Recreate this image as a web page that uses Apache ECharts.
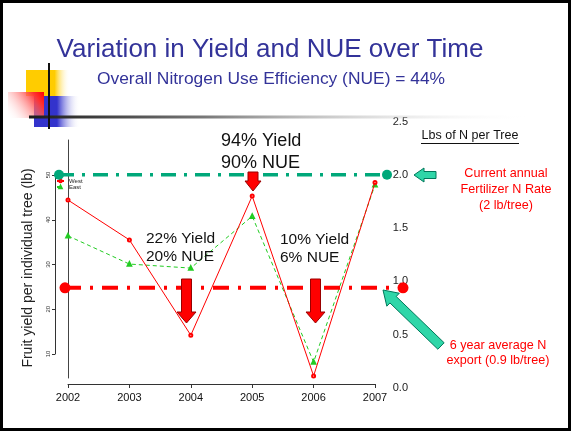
<!DOCTYPE html>
<html>
<head>
<meta charset="utf-8">
<script src="https://cdn.jsdelivr.net/npm/echarts@6/dist/echarts.min.js"></script>
<style>
html,body{margin:0;padding:0;background:#fff;}
#chart{width:571px;height:434px;}
</style>
</head>
<body>
<div id="chart"></div>
<script>
// ---- data ----
var years = ['2002', '2003', '2004', '2005', '2006', '2007'];
var westYield = [44.4, 35.5, 14.2, 45.3, 5.1, 48.3];
var eastYield = [36.4, 30.1, 29.2, 40.8, 8.2, 47.8];
var fertilizerRate = [2.0, 2.0];     // lb N per tree (current annual rate)
var nExport = [0.94, 0.94];          // 6 year average N export (as drawn)
var refEnds = ['start', 'end'];
var leftAxisMin = 10, leftAxisMax = 50, leftAxisStep = 10;
var rightAxisMin = 0, rightAxisMax = 2.5, rightAxisStep = 0.5;

var FONT = '"Liberation Sans", Arial, sans-serif';
var chart = echarts.init(document.getElementById('chart'), null, {renderer: 'canvas'});

function downArrow(cx, y0, y1, bh, hh, hl) {
  return [[cx - bh, y0], [cx + bh, y0], [cx + bh, y1 - hl], [cx + hh, y1 - hl], [cx, y1], [cx - hh, y1 - hl], [cx - bh, y1 - hl]];
}
function arrowFromTo(tx, ty, ex, ey, bh, hh, hl) {
  var dx = ex - tx, dy = ey - ty, L = Math.sqrt(dx * dx + dy * dy);
  var ux = dx / L, uy = dy / L, px = -uy, py = ux;
  var bx = tx + ux * hl, by = ty + uy * hl;
  return [[tx, ty], [bx + px * hh, by + py * hh], [bx + px * bh, by + py * bh], [ex + px * bh, ey + py * bh],
          [ex - px * bh, ey - py * bh], [bx - px * bh, by - py * bh], [bx - px * hh, by - py * hh]];
}
function txt(text, x, y, size, color, extra) {
  var s = {text: text, x: x, y: y, fill: color, font: size + 'px ' + FONT,
    textAlign: 'center', textVerticalAlign: 'middle', align: 'center', verticalAlign: 'middle'};
  if (extra) for (var k in extra) s[k] = extra[k];
  return {type: 'text', z: 100, style: s};
}

var redArrowStyle = {fill: '#ff0000', stroke: '#9a0000', lineWidth: 1};
var tealArrowStyle = {fill: '#2fd6a8', stroke: '#00785a', lineWidth: 1};

var graphics = [
  // slide frame
  {type: 'rect', z: 1, shape: {x: 1.5, y: 1.5, width: 568, height: 428}, style: {fill: 'none', stroke: '#000', lineWidth: 3}},
  // template decoration
  {type: 'rect', z: 2, shape: {x: 26, y: 70, width: 44, height: 26},
    style: {fill: new echarts.graphic.LinearGradient(0, 0, 1, 0, [{offset: 0, color: '#ffcc00'}, {offset: 0.65, color: '#ffcc00'}, {offset: 1, color: 'rgba(255,255,255,0)'}])}},
  {type: 'rect', z: 3, shape: {x: 34, y: 96, width: 46, height: 31},
    style: {fill: new echarts.graphic.LinearGradient(0, 0, 1, 0, [{offset: 0, color: '#3333cc'}, {offset: 0.5, color: '#3333cc'}, {offset: 1, color: 'rgba(255,255,255,0)'}])}},
  {type: 'rect', z: 4, shape: {x: 8, y: 92, width: 36, height: 26},
    style: {fill: new echarts.graphic.LinearGradient(1, 0, 0, 1, [{offset: 0, color: '#ff0000'}, {offset: 0.2, color: '#ff3030'}, {offset: 1, color: 'rgba(255,255,255,0)'}])}},
  {type: 'line', z: 5, shape: {x1: 29, y1: 117, x2: 530, y2: 117},
    style: {lineWidth: 3, stroke: new echarts.graphic.LinearGradient(0, 0, 1, 0, [{offset: 0, color: '#1a1a1a'}, {offset: 0.35, color: '#777'}, {offset: 1, color: 'rgba(255,255,255,0)'}])}},
  {type: 'line', z: 6, shape: {x1: 49, y1: 63, x2: 49, y2: 129}, style: {lineWidth: 2, stroke: '#111'}},
  // titles
  txt('Variation in Yield and NUE over Time', 270, 50, 26, '#333399'),
  txt('Overall Nitrogen Use Efficiency (NUE) = 44%', 271, 79, 17.4, '#333399'),
  // annotations
  txt('94% Yield\n90% NUE', 221, 152, 18, '#111', {textAlign: 'left', align: 'left', lineHeight: 22}),
  txt('22% Yield\n20% NUE', 146, 248, 15.5, '#111', {textAlign: 'left', align: 'left', lineHeight: 18}),
  txt('10% Yield\n6% NUE', 280, 249, 15.5, '#111', {textAlign: 'left', align: 'left', lineHeight: 18}),
  txt('Lbs of N per Tree', 470, 136, 12.5, '#111'),
  {type: 'line', z: 100, shape: {x1: 421, y1: 143.5, x2: 519, y2: 143.5}, style: {stroke: '#111', lineWidth: 1}},
  txt('Current annual\nFertilizer N Rate\n(2 lb/tree)', 506, 190, 12.6, '#ff0000', {lineHeight: 16}),
  txt('6 year average N\nexport (0.9 lb/tree)', 498, 353, 12.6, '#ff0000', {lineHeight: 15}),
  txt('Fruit yield per individual tree (lb)', 0, 0, 14, '#222', {}),
  // arrows
  {type: 'polygon', z: 90, shape: {points: downArrow(253, 172, 191, 5, 8, 10)}, style: redArrowStyle},
  {type: 'polygon', z: 90, shape: {points: downArrow(186.5, 279, 323, 5, 9.5, 11)}, style: redArrowStyle},
  {type: 'polygon', z: 90, shape: {points: downArrow(315.5, 279, 323, 5, 9.5, 11)}, style: redArrowStyle},
  {type: 'polygon', z: 90, shape: {points: arrowFromTo(414, 175, 436, 175, 3.5, 7, 10)}, style: tealArrowStyle},
  {type: 'polygon', z: 90, shape: {points: arrowFromTo(383, 290, 441, 346, 4.5, 9, 14)}, style: tealArrowStyle}
];
// rotate y axis title
var yTitle = graphics[15];
yTitle.x = 28; yTitle.y = 268; yTitle.rotation = Math.PI / 2;

var gridBottomRight = 434 - 388;
var rightTop = 388 - (rightAxisMax - rightAxisMin) * 106.6;

var option = {
  animation: false,
  backgroundColor: '#fff',
  textStyle: {fontFamily: FONT},
  grid: [
    {left: 68, right: 571 - 375, top: 175, bottom: 434 - 354},          // 0 data
    {left: 68, right: 571 - 411, top: rightTop, bottom: gridBottomRight}, // 1 right labels
    {left: 68, right: 571 - 411, top: 140, bottom: 434 - 378},          // 2 right axis line
    {left: 59, right: 571 - 387, top: rightTop, bottom: gridBottomRight}, // 3 fertilizer ref
    {left: 65, right: 571 - 403, top: rightTop, bottom: gridBottomRight}  // 4 export ref
  ],
  xAxis: [
    {gridIndex: 0, type: 'category', data: years, boundaryGap: false, offset: 30,
      axisLine: {lineStyle: {color: '#333', width: 1}},
      axisTick: {length: 4, lineStyle: {color: '#333'}},
      axisLabel: {fontSize: 11, color: '#111', margin: 8, fontFamily: FONT},
      splitLine: {show: false}},
    {gridIndex: 1, type: 'value', min: 0, max: 1, show: false},
    {gridIndex: 2, type: 'value', min: 0, max: 1, show: false},
    {gridIndex: 3, type: 'category', data: refEnds, boundaryGap: false, show: false},
    {gridIndex: 4, type: 'category', data: refEnds, boundaryGap: false, show: false}
  ],
  yAxis: [
    {gridIndex: 0, type: 'value', min: leftAxisMin, max: leftAxisMax, interval: leftAxisStep, offset: 13,
      axisLine: {show: true, lineStyle: {color: '#333', width: 1}},
      axisTick: {show: true, length: 3, lineStyle: {color: '#333'}},
      axisLabel: {rotate: 90, fontSize: 6, color: '#333', margin: 4, fontFamily: FONT},
      splitLine: {show: false}},
    {gridIndex: 1, type: 'value', position: 'right', min: rightAxisMin, max: rightAxisMax, interval: rightAxisStep,
      axisLine: {show: false}, axisTick: {show: false},
      axisLabel: {inside: true, fontSize: 11, color: '#222', margin: 3, fontFamily: FONT,
        formatter: function (v) { return v.toFixed(1); }},
      splitLine: {show: false}},
    {gridIndex: 2, type: 'value', position: 'right', min: 0, max: 1,
      axisLine: {show: true, lineStyle: {color: '#444', width: 1}}, axisTick: {show: false},
      axisLabel: {show: false}, splitLine: {show: false}},
    {gridIndex: 3, type: 'value', min: rightAxisMin, max: rightAxisMax, show: false, splitLine: {show: false}},
    {gridIndex: 4, type: 'value', min: rightAxisMin, max: rightAxisMax, show: false, splitLine: {show: false}}
  ],
  legend: {
    data: ['West', 'East'], orient: 'vertical', left: 56, top: 178, padding: 0, itemGap: 0,
    itemWidth: 7, itemHeight: 3, textStyle: {fontSize: 6, color: '#222', fontFamily: FONT}
  },
  series: [
    {name: 'West', type: 'line', xAxisIndex: 0, yAxisIndex: 0, data: westYield, clip: false,
      symbol: 'emptyCircle', symbolSize: 3, z: 5,
      lineStyle: {color: '#ff0000', width: 1}, itemStyle: {color: '#ff0000', borderWidth: 1}},
    {name: 'East', type: 'line', xAxisIndex: 0, yAxisIndex: 0, data: eastYield, clip: false,
      symbol: 'emptyTriangle', symbolSize: 3.5, z: 4,
      lineStyle: {color: '#22cc22', width: 1, type: [4, 3]}, itemStyle: {color: '#22cc22', borderWidth: 1}},
    {name: 'Current annual Fertilizer N Rate', type: 'line', xAxisIndex: 3, yAxisIndex: 3, data: fertilizerRate,
      symbol: 'circle', symbolSize: 10, z: 6,
      lineStyle: {color: '#00a87a', width: 3.5, type: [15, 8, 3, 8]}, itemStyle: {color: '#00a87a'}},
    {name: '6 year average N export', type: 'line', xAxisIndex: 4, yAxisIndex: 4, data: nExport,
      symbol: 'circle', symbolSize: 11, z: 6,
      lineStyle: {color: '#ff0000', width: 4, type: [16, 9, 3, 9]}, itemStyle: {color: '#ff0000'}}
  ],
  graphic: graphics
};
chart.setOption(option);
</script>
</body>
</html>
